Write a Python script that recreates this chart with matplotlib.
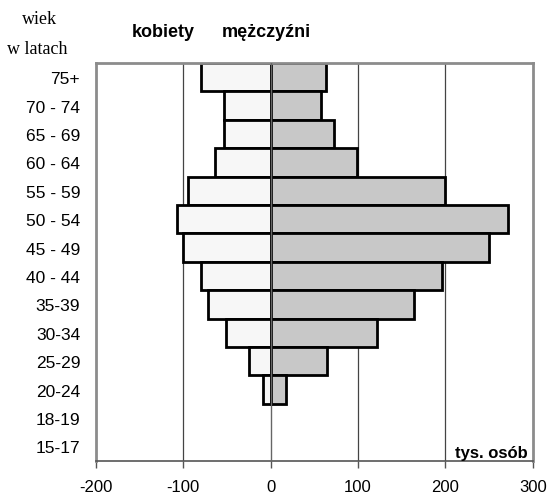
import numpy as np
import matplotlib.pyplot as plt

# grupy wieku, od najstarszej (góra) do najmłodszej (dół)
wiek = ["75+", "70 - 74", "65 - 69", "60 - 64", "55 - 59", "50 - 54", "45 - 49",
        "40 - 44", "35-39", "30-34", "25-29", "20-24", "18-19", "15-17"]

# tys. osób
kobiety = [80, 53, 53, 64, 94, 107, 100, 80, 71, 51, 25, 9, 0, 0]
mezczyzni = [64, 58, 73, 99, 200, 272, 250, 196, 164, 122, 65, 18, 0, 0]

x_ticks = [-200, -100, 0, 100, 200, 300]

plt.rcParams['font.family'] = ['Liberation Sans', 'DejaVu Sans']

fig = plt.figure(figsize=(5.48, 5.02), dpi=100)
ax = fig.add_axes([0.1743, 0.0803, 0.7983, 0.7922])

y = np.arange(len(wiek))[::-1]
k = np.array(kobiety)
m = np.array(mezczyzni)

# puste grupy bez obramowania
ax.barh(y, -k, height=1.0, color="#f7f7f7", edgecolor="black",
        linewidth=np.where(k > 0, 2, 0), zorder=2)
ax.barh(y, m, height=1.0, color="#c8c8c8", edgecolor="black",
        linewidth=np.where(m > 0, 2, 0), zorder=2)

# linie siatki pionowe
for xv in [-100, 100, 200]:
    ax.axvline(xv, color="#444444", linewidth=0.9, zorder=1)
ax.axvline(0, color="#666666", linewidth=1.0, zorder=3)

ax.set_xlim(-200, 300)
ax.set_ylim(-0.5, len(wiek) - 0.5)

ax.set_xticks(x_ticks)
ax.set_xticklabels([str(v) for v in x_ticks], fontsize=12)
ax.set_yticks(y)
ax.set_yticklabels(wiek, fontsize=12.5)
ax.tick_params(axis="y", length=0, pad=11)
ax.tick_params(axis="x", length=5, width=1, color="#555555", pad=8, direction="out")

for side in ["top", "right", "left"]:
    ax.spines[side].set_color("#8c8c8c")
    ax.spines[side].set_linewidth(2)
ax.spines["bottom"].set_color("#555555")
ax.spines["bottom"].set_linewidth(1.2)

# opisy
fig.text(40 / 548, 1 - 20 / 502, "wiek", family="Liberation Serif",
         fontsize=13, ha="center", va="center")
fig.text(37 / 548, 1 - 50 / 502, "w latach", family="Liberation Serif",
         fontsize=13, ha="center", va="center")
fig.text(163 / 548, 1 - 33 / 502, "kobiety", fontsize=13, fontweight="bold",
         ha="center", va="center")
fig.text(266 / 548, 1 - 33 / 502, "mężczyźni", fontsize=13, fontweight="bold",
         ha="center", va="center")
ax.text(294, -0.2, "tys. osób", fontsize=12, fontweight="bold",
        ha="right", va="center")

fig.savefig("out.png", dpi=100)
